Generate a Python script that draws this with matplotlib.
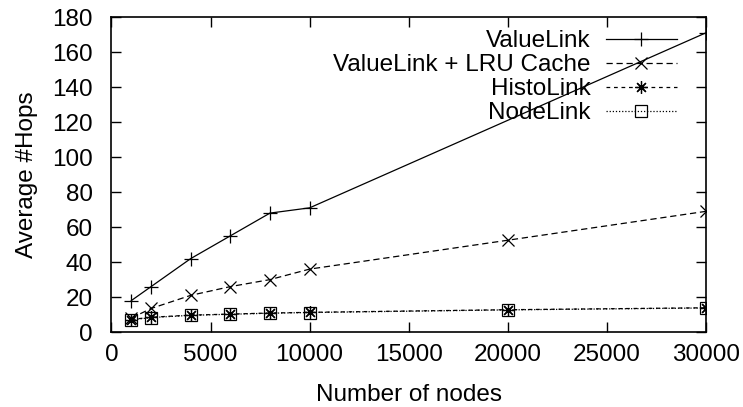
import matplotlib
matplotlib.use("Agg")
import matplotlib.pyplot as plt

plt.rcParams['font.family'] = ['Liberation Sans', 'DejaVu Sans']
plt.rcParams['font.size'] = 17.5

nodes = [1000, 2000, 4000, 6000, 8000, 10000, 20000, 30000]
nodes_vl = [1000, 2000, 4000, 6000, 8000, 10000, 30000]
valuelink = [18, 26, 42, 55, 68, 71, 171]
valuelink_lru = [8, 13.5, 21, 26, 30, 36, 52.5, 69]
histolink = [7.2, 8.5, 9.7, 10.3, 10.9, 11.3, 12.8, 13.9]
nodelink = [7.0, 8.3, 9.6, 10.2, 10.8, 11.2, 12.7, 13.8]

fig = plt.figure(figsize=(7.43, 4.07), dpi=100)
ax = fig.add_axes([0.150, 0.184, 0.800, 0.774])

ax.plot(nodes_vl, valuelink, color='black', lw=0.9, linestyle='-',
        marker='+', markersize=10, markeredgewidth=0.9, label='ValueLink')
ax.plot(nodes, valuelink_lru, color='black', lw=0.9, linestyle=(0, (5, 3)),
        marker='x', markersize=8, markeredgewidth=0.9, label='ValueLink + LRU Cache')
ax.plot(nodes, histolink, color='black', lw=0.9, linestyle=(0, (3, 3)),
        marker=(8, 2, 0), markersize=9, markeredgewidth=0.9, label='HistoLink')
ax.plot(nodes, nodelink, color='black', lw=0.9, linestyle=(0, (1, 1.5)),
        marker='s', markersize=8, markerfacecolor='none', markeredgewidth=0.9,
        label='NodeLink')

ax.set_xlim(0, 30000)
ax.set_ylim(0, 180)
ax.set_xticks(range(0, 30001, 5000))
ax.set_yticks(range(0, 181, 20))
ax.tick_params(direction='in', top=True, right=True, length=7, width=1)
ax.tick_params(axis='y', pad=13.5)
ax.tick_params(axis='x', pad=8.5)
for s in ax.spines.values():
    s.set_linewidth(1.2)

ax.set_xlabel('Number of nodes', labelpad=13)
ax.set_ylabel('Average #Hops', labelpad=10)

leg = ax.legend(loc='upper right', bbox_to_anchor=(0.963, 0.981),
                frameon=False, markerfirst=False,
                handlelength=2.9, labelspacing=0.08, handletextpad=0.65,
                borderaxespad=0, borderpad=0.3, fontsize=17.5)
leg._legend_box._children[-1]._children[0].align = "right"

fig.savefig('out.png', dpi=100)
